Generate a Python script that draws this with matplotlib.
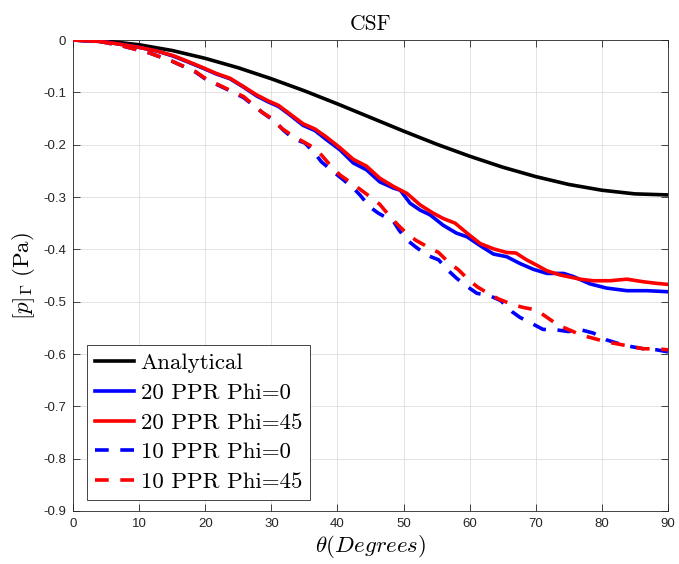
import matplotlib
matplotlib.use("Agg")
import matplotlib.pyplot as plt
import numpy as np

plt.rcParams["mathtext.fontset"] = "cm"
plt.rcParams["axes.unicode_minus"] = False

# Analytical solution (degrees, Pa)
theta_analytical = [0, 5, 10, 15, 20, 25, 30, 35, 40, 45, 50, 55, 60, 65, 70, 75, 80, 85, 90]
p_analytical = [0, -0.002, -0.009, -0.020, -0.035, -0.053, -0.074, -0.097, -0.122, -0.148,
                -0.174, -0.199, -0.222, -0.243, -0.261, -0.276, -0.287, -0.294, -0.296]

# 20 PPR, Phi = 0
theta_20_phi0 = [0, 4.6, 9.6, 12.7, 15.2, 17.2, 19.7, 21.7, 23.75, 25.8, 27.8, 29.5, 31.1, 32.8,
                 34.8, 36.6, 38.4, 40.4, 42.4, 44.4, 46.4, 48.5, 49.5, 51.0, 52.5, 54.0, 56.0,
                 58.0, 59.6, 61.6, 63.6, 65.6, 67.6, 69.6, 71.7, 74.2, 75.7, 78.2, 80.7, 83.8,
                 86.8, 90]
p_20_phi0 = [0, -0.003, -0.013, -0.021, -0.031, -0.041, -0.054, -0.065, -0.074, -0.090, -0.107,
             -0.118, -0.127, -0.143, -0.163, -0.173, -0.191, -0.210, -0.235, -0.248, -0.271,
             -0.283, -0.287, -0.312, -0.325, -0.334, -0.354, -0.369, -0.376, -0.393, -0.409,
             -0.414, -0.427, -0.438, -0.446, -0.446, -0.452, -0.466, -0.474, -0.479, -0.479,
             -0.481]

# 20 PPR, Phi = 45
theta_20_phi45 = [0, 4.6, 9.6, 12.7, 15.2, 17.2, 19.7, 21.7, 23.75, 25.8, 27.8, 29.5, 31.1, 32.8,
                  34.8, 36.6, 38.4, 40.4, 42.4, 44.4, 46.4, 48.5, 50.5, 52.5, 54.5, 56.0, 57.8,
                  59.6, 61.6, 63.6, 65.6, 67.0, 68.6, 70.1, 71.7, 73.7, 76.7, 78.7, 81.2, 83.8,
                  86.3, 88.3, 90]
p_20_phi45 = [0, -0.003, -0.013, -0.021, -0.030, -0.040, -0.053, -0.064, -0.073, -0.089, -0.105,
              -0.116, -0.125, -0.141, -0.160, -0.170, -0.186, -0.206, -0.228, -0.241, -0.264,
              -0.280, -0.293, -0.315, -0.331, -0.341, -0.350, -0.369, -0.389, -0.399, -0.406,
              -0.407, -0.420, -0.430, -0.441, -0.449, -0.457, -0.460, -0.460, -0.457, -0.462,
              -0.465, -0.467]

# 10 PPR, Phi = 0
theta_10_phi0 = [0, 3.8, 7.4, 11.4, 14.9, 18.5, 20.2, 22.1, 23.75, 25.8, 27.5, 28.8, 30.6, 31.8,
                 33.3, 35.1, 36.6, 37.6, 39.4, 40.6, 42.4, 43.4, 44.9, 46.2, 48.5, 49.3, 50.5,
                 51.8, 53.5, 55.3, 56.8, 58.0, 59.6, 61.1, 63.1, 64.7, 66.4, 67.6, 69.6, 71.1,
                 73.2, 74.9, 76.9, 78.7, 80.7, 82.5, 84.5, 86.3, 88.3, 90]
p_10_phi0 = [0, -0.002, -0.011, -0.024, -0.040, -0.061, -0.076, -0.087, -0.097, -0.110, -0.127,
             -0.140, -0.156, -0.172, -0.188, -0.197, -0.217, -0.233, -0.252, -0.264, -0.283,
             -0.296, -0.319, -0.331, -0.347, -0.363, -0.382, -0.395, -0.411, -0.420, -0.441,
             -0.455, -0.471, -0.484, -0.489, -0.498, -0.519, -0.530, -0.543, -0.553, -0.554,
             -0.557, -0.554, -0.560, -0.573, -0.580, -0.586, -0.590, -0.592, -0.596]

# 10 PPR, Phi = 45
theta_10_phi45 = [0, 3.8, 7.4, 11.4, 14.9, 18.5, 20.2, 22.1, 23.75, 25.8, 27.0, 28.6, 30.1, 31.6,
                  33.1, 34.8, 36.6, 37.6, 39.1, 40.4, 42.2, 43.4, 45.2, 46.4, 48.0, 49.2, 50.6,
                  51.9, 53.9, 55.3, 56.9, 58.3, 59.9, 61.2, 62.9, 64.4, 66.6, 68.1, 70.1, 71.7,
                  73.4, 74.9, 76.9, 78.7, 80.7, 82.5, 84.5, 86.3, 88.3, 90]
p_10_phi45 = [0, -0.002, -0.011, -0.024, -0.040, -0.060, -0.075, -0.086, -0.096, -0.108, -0.121,
              -0.138, -0.150, -0.169, -0.182, -0.194, -0.207, -0.220, -0.242, -0.258, -0.274,
              -0.285, -0.302, -0.314, -0.338, -0.354, -0.371, -0.383, -0.397, -0.406, -0.426,
              -0.439, -0.459, -0.472, -0.485, -0.495, -0.506, -0.511, -0.516, -0.530, -0.545,
              -0.553, -0.564, -0.570, -0.577, -0.581, -0.586, -0.590, -0.590, -0.592]

series_labels = ["Analytical", "20 PPR Phi=0", "20 PPR Phi=45", "10 PPR Phi=0", "10 PPR Phi=45"]
x_ticks = [0, 10, 20, 30, 40, 50, 60, 70, 80, 90]
y_ticks = [0, -0.1, -0.2, -0.3, -0.4, -0.5, -0.6, -0.7, -0.8, -0.9]

fig = plt.figure(figsize=(6.79, 5.64), dpi=100)
ax = fig.add_axes([0.1075, 0.094, 0.8763, 0.835])

lw = 2.6
dash = (3.8, 3.2)
ax.plot(theta_analytical, p_analytical, color="black", lw=lw, label=series_labels[0], zorder=3)
ax.plot(theta_20_phi0, p_20_phi0, color="#0000ff", lw=lw, label=series_labels[1], zorder=3)
ax.plot(theta_20_phi45, p_20_phi45, color="#ff0000", lw=lw, label=series_labels[2], zorder=3)
ax.plot(theta_10_phi0, p_10_phi0, color="#0000ff", lw=lw, dashes=dash,
        label=series_labels[3], zorder=3)
ax.plot(theta_10_phi45, p_10_phi45, color="#ff0000", lw=lw, dashes=dash,
        label=series_labels[4], zorder=3)

ax.set_xlim(0, 90)
ax.set_ylim(-0.9, 0)
ax.set_xticks(x_ticks)
ax.set_yticks(y_ticks)
ax.set_xticklabels([f"{v:g}" for v in x_ticks], fontfamily="Liberation Sans", fontsize=9.5)
ax.set_yticklabels([f"{v:g}" for v in y_ticks], fontfamily="Liberation Sans", fontsize=9.5)

axis_color = "#262626"
ax.tick_params(direction="in", length=5, width=0.6, colors=axis_color,
               top=True, right=True, pad=5)
for s in ax.spines.values():
    s.set_color(axis_color)
    s.set_linewidth(0.6)
ax.grid(True, color="#dedede", lw=0.6)
ax.set_axisbelow(True)

ax.set_title("CSF", fontfamily="cmr10", fontsize=15.5, pad=7)
ax.set_xlabel(r"$\theta(Degrees)$", fontsize=16.5, labelpad=2)
ax.set_ylabel(r"$[p]_\Gamma\ \mathrm{(Pa)}$", fontsize=16.5, labelpad=4)

leg = ax.legend(loc="upper left", bbox_to_anchor=(0.023, 0.352), borderaxespad=0,
                prop={"family": "cmr10", "size": 16.5}, handlelength=1.7,
                handletextpad=0.3, labelspacing=0.42, borderpad=0.35,
                fancybox=False, framealpha=1, edgecolor="#262626")
leg.get_frame().set_linewidth(0.6)

fig.savefig("out.png", dpi=100)
